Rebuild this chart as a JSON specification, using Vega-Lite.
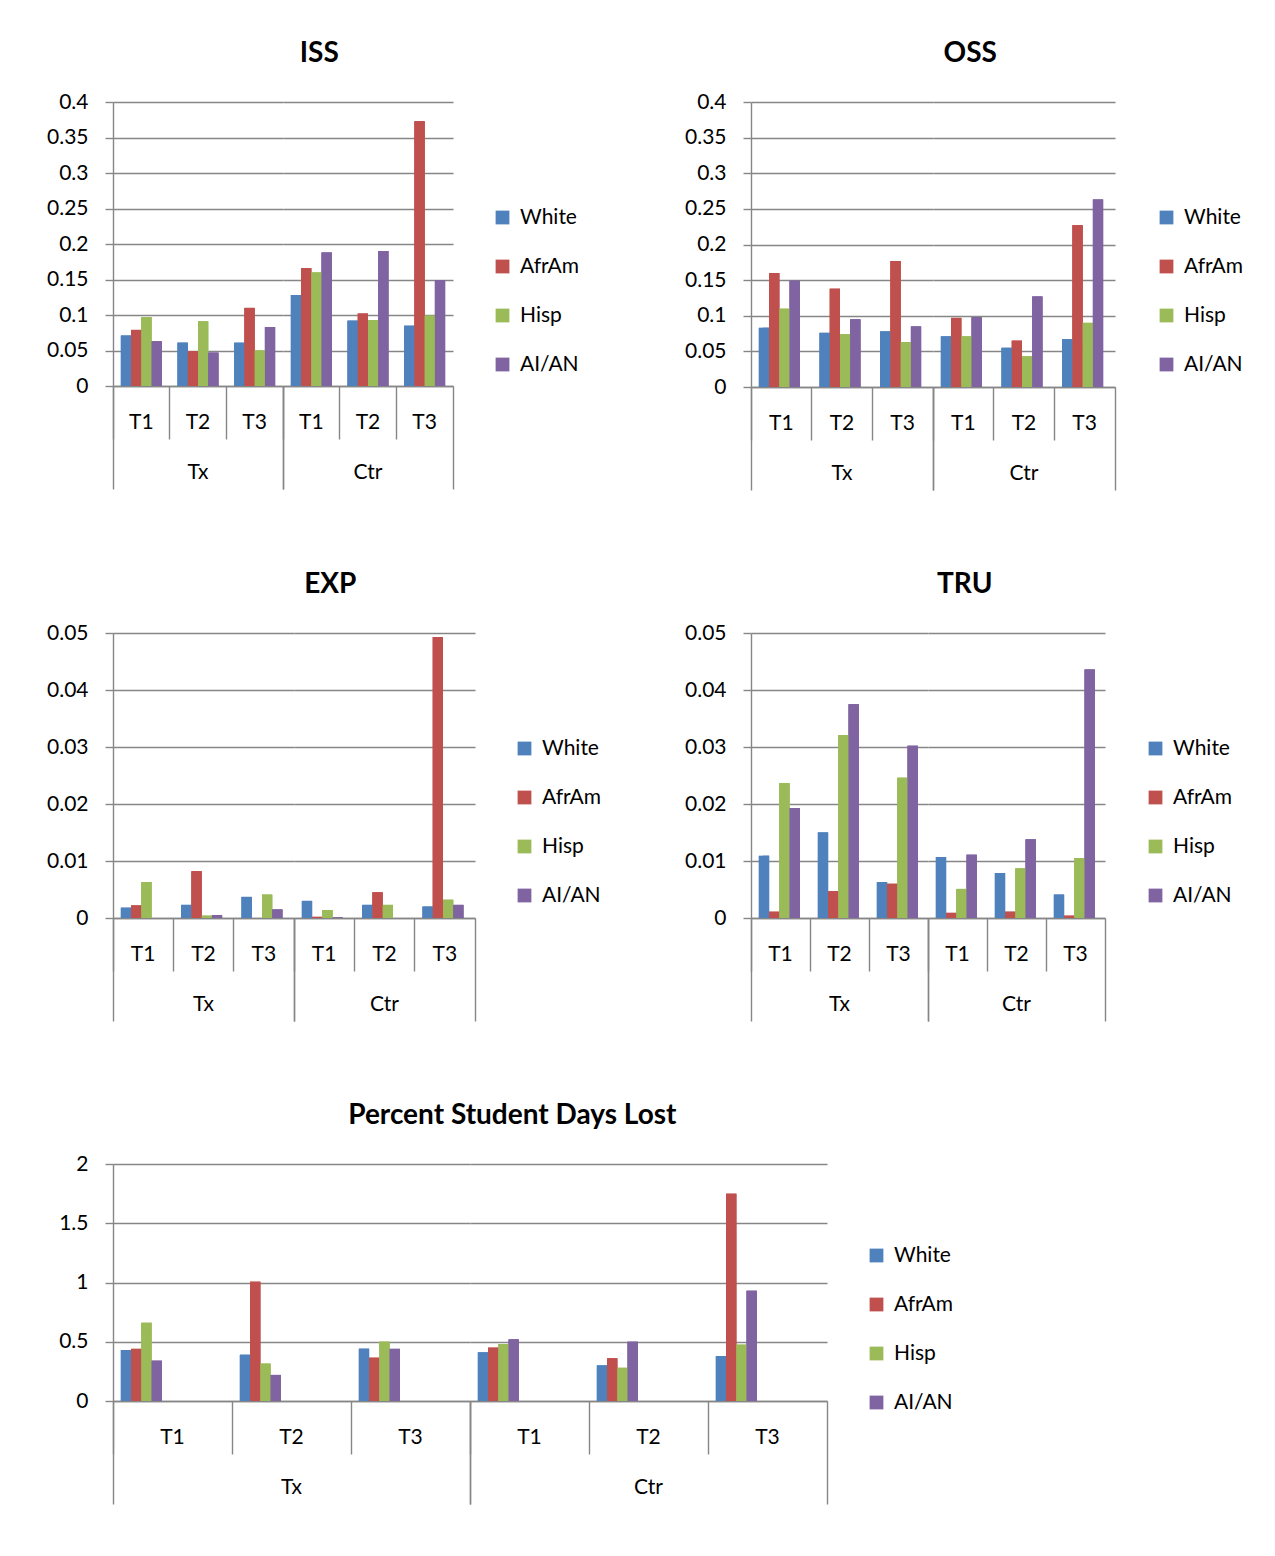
{
  "$schema": "https://vega.github.io/schema/vega-lite/v6.json",
  "background": "white",
  "padding": {"left": 46, "top": 40, "right": 0, "bottom": 0},
  "datasets": {
    "iss": [
      {"cond":"Tx","t":"T1","race":"White","v":0.071},{"cond":"Tx","t":"T1","race":"AfrAm","v":0.079},{"cond":"Tx","t":"T1","race":"Hisp","v":0.097},{"cond":"Tx","t":"T1","race":"AI/AN","v":0.063},
      {"cond":"Tx","t":"T2","race":"White","v":0.061},{"cond":"Tx","t":"T2","race":"AfrAm","v":0.049},{"cond":"Tx","t":"T2","race":"Hisp","v":0.091},{"cond":"Tx","t":"T2","race":"AI/AN","v":0.047},
      {"cond":"Tx","t":"T3","race":"White","v":0.061},{"cond":"Tx","t":"T3","race":"AfrAm","v":0.110},{"cond":"Tx","t":"T3","race":"Hisp","v":0.050},{"cond":"Tx","t":"T3","race":"AI/AN","v":0.083},
      {"cond":"Ctr","t":"T1","race":"White","v":0.128},{"cond":"Ctr","t":"T1","race":"AfrAm","v":0.166},{"cond":"Ctr","t":"T1","race":"Hisp","v":0.160},{"cond":"Ctr","t":"T1","race":"AI/AN","v":0.188},
      {"cond":"Ctr","t":"T2","race":"White","v":0.092},{"cond":"Ctr","t":"T2","race":"AfrAm","v":0.102},{"cond":"Ctr","t":"T2","race":"Hisp","v":0.093},{"cond":"Ctr","t":"T2","race":"AI/AN","v":0.190},
      {"cond":"Ctr","t":"T3","race":"White","v":0.085},{"cond":"Ctr","t":"T3","race":"AfrAm","v":0.373},{"cond":"Ctr","t":"T3","race":"Hisp","v":0.099},{"cond":"Ctr","t":"T3","race":"AI/AN","v":0.149}
    ],
    "oss": [
      {"cond":"Tx","t":"T1","race":"White","v":0.083},{"cond":"Tx","t":"T1","race":"AfrAm","v":0.160},{"cond":"Tx","t":"T1","race":"Hisp","v":0.110},{"cond":"Tx","t":"T1","race":"AI/AN","v":0.149},
      {"cond":"Tx","t":"T2","race":"White","v":0.076},{"cond":"Tx","t":"T2","race":"AfrAm","v":0.138},{"cond":"Tx","t":"T2","race":"Hisp","v":0.074},{"cond":"Tx","t":"T2","race":"AI/AN","v":0.095},
      {"cond":"Tx","t":"T3","race":"White","v":0.078},{"cond":"Tx","t":"T3","race":"AfrAm","v":0.177},{"cond":"Tx","t":"T3","race":"Hisp","v":0.063},{"cond":"Tx","t":"T3","race":"AI/AN","v":0.085},
      {"cond":"Ctr","t":"T1","race":"White","v":0.071},{"cond":"Ctr","t":"T1","race":"AfrAm","v":0.097},{"cond":"Ctr","t":"T1","race":"Hisp","v":0.071},{"cond":"Ctr","t":"T1","race":"AI/AN","v":0.098},
      {"cond":"Ctr","t":"T2","race":"White","v":0.055},{"cond":"Ctr","t":"T2","race":"AfrAm","v":0.065},{"cond":"Ctr","t":"T2","race":"Hisp","v":0.043},{"cond":"Ctr","t":"T2","race":"AI/AN","v":0.127},
      {"cond":"Ctr","t":"T3","race":"White","v":0.067},{"cond":"Ctr","t":"T3","race":"AfrAm","v":0.227},{"cond":"Ctr","t":"T3","race":"Hisp","v":0.090},{"cond":"Ctr","t":"T3","race":"AI/AN","v":0.263}
    ],
    "exp": [
      {"cond":"Tx","t":"T1","race":"White","v":0.0018},{"cond":"Tx","t":"T1","race":"AfrAm","v":0.0022},{"cond":"Tx","t":"T1","race":"Hisp","v":0.0063},{"cond":"Tx","t":"T1","race":"AI/AN","v":0},
      {"cond":"Tx","t":"T2","race":"White","v":0.0023},{"cond":"Tx","t":"T2","race":"AfrAm","v":0.0082},{"cond":"Tx","t":"T2","race":"Hisp","v":0.0004},{"cond":"Tx","t":"T2","race":"AI/AN","v":0.0005},
      {"cond":"Tx","t":"T3","race":"White","v":0.0037},{"cond":"Tx","t":"T3","race":"AfrAm","v":0},{"cond":"Tx","t":"T3","race":"Hisp","v":0.0041},{"cond":"Tx","t":"T3","race":"AI/AN","v":0.0015},
      {"cond":"Ctr","t":"T1","race":"White","v":0.003},{"cond":"Ctr","t":"T1","race":"AfrAm","v":0.0002},{"cond":"Ctr","t":"T1","race":"Hisp","v":0.0014},{"cond":"Ctr","t":"T1","race":"AI/AN","v":0.0001},
      {"cond":"Ctr","t":"T2","race":"White","v":0.0023},{"cond":"Ctr","t":"T2","race":"AfrAm","v":0.0045},{"cond":"Ctr","t":"T2","race":"Hisp","v":0.0023},{"cond":"Ctr","t":"T2","race":"AI/AN","v":0},
      {"cond":"Ctr","t":"T3","race":"White","v":0.002},{"cond":"Ctr","t":"T3","race":"AfrAm","v":0.0493},{"cond":"Ctr","t":"T3","race":"Hisp","v":0.0032},{"cond":"Ctr","t":"T3","race":"AI/AN","v":0.0023}
    ],
    "tru": [
      {"cond":"Tx","t":"T1","race":"White","v":0.0109},{"cond":"Tx","t":"T1","race":"AfrAm","v":0.0011},{"cond":"Tx","t":"T1","race":"Hisp","v":0.0237},{"cond":"Tx","t":"T1","race":"AI/AN","v":0.0193},
      {"cond":"Tx","t":"T2","race":"White","v":0.0150},{"cond":"Tx","t":"T2","race":"AfrAm","v":0.0047},{"cond":"Tx","t":"T2","race":"Hisp","v":0.0321},{"cond":"Tx","t":"T2","race":"AI/AN","v":0.0375},
      {"cond":"Tx","t":"T3","race":"White","v":0.0063},{"cond":"Tx","t":"T3","race":"AfrAm","v":0.0060},{"cond":"Tx","t":"T3","race":"Hisp","v":0.0246},{"cond":"Tx","t":"T3","race":"AI/AN","v":0.0302},
      {"cond":"Ctr","t":"T1","race":"White","v":0.0107},{"cond":"Ctr","t":"T1","race":"AfrAm","v":0.0009},{"cond":"Ctr","t":"T1","race":"Hisp","v":0.0051},{"cond":"Ctr","t":"T1","race":"AI/AN","v":0.0111},
      {"cond":"Ctr","t":"T2","race":"White","v":0.0079},{"cond":"Ctr","t":"T2","race":"AfrAm","v":0.0011},{"cond":"Ctr","t":"T2","race":"Hisp","v":0.0087},{"cond":"Ctr","t":"T2","race":"AI/AN","v":0.0138},
      {"cond":"Ctr","t":"T3","race":"White","v":0.0041},{"cond":"Ctr","t":"T3","race":"AfrAm","v":0.0004},{"cond":"Ctr","t":"T3","race":"Hisp","v":0.0105},{"cond":"Ctr","t":"T3","race":"AI/AN","v":0.0436}
    ],
    "psdl": [
      {"cond":"Tx","t":"T1","race":"White","v":0.43},{"cond":"Tx","t":"T1","race":"AfrAm","v":0.44},{"cond":"Tx","t":"T1","race":"Hisp","v":0.66},{"cond":"Tx","t":"T1","race":"AI/AN","v":0.34},
      {"cond":"Tx","t":"T2","race":"White","v":0.39},{"cond":"Tx","t":"T2","race":"AfrAm","v":1.006},{"cond":"Tx","t":"T2","race":"Hisp","v":0.315},{"cond":"Tx","t":"T2","race":"AI/AN","v":0.22},
      {"cond":"Tx","t":"T3","race":"White","v":0.44},{"cond":"Tx","t":"T3","race":"AfrAm","v":0.365},{"cond":"Tx","t":"T3","race":"Hisp","v":0.50},{"cond":"Tx","t":"T3","race":"AI/AN","v":0.44},
      {"cond":"Ctr","t":"T1","race":"White","v":0.41},{"cond":"Ctr","t":"T1","race":"AfrAm","v":0.45},{"cond":"Ctr","t":"T1","race":"Hisp","v":0.48},{"cond":"Ctr","t":"T1","race":"AI/AN","v":0.52},
      {"cond":"Ctr","t":"T2","race":"White","v":0.30},{"cond":"Ctr","t":"T2","race":"AfrAm","v":0.36},{"cond":"Ctr","t":"T2","race":"Hisp","v":0.28},{"cond":"Ctr","t":"T2","race":"AI/AN","v":0.50},
      {"cond":"Ctr","t":"T3","race":"White","v":0.38},{"cond":"Ctr","t":"T3","race":"AfrAm","v":1.75},{"cond":"Ctr","t":"T3","race":"Hisp","v":0.475},{"cond":"Ctr","t":"T3","race":"AI/AN","v":0.93}
    ]
  },
  "config": {
    "font": "Lato",
    "view": {"stroke": null},
    "axis": {"gridColor": "#868686", "domainColor": "#868686", "tickColor": "#868686", "labelColor": "#000000", "labelFontSize": 21, "gridWidth": 1.4, "domainWidth": 1.4, "tickWidth": 1.4},
    "legend": {"symbolType": "square", "symbolSize": 190, "symbolStrokeWidth": 0, "labelFontSize": 21, "labelColor": "#000000", "rowPadding": 27, "labelOffset": 7},
    "header": {"labelFontSize": 21, "labelColor": "#000000", "labelOrient": "bottom", "labelPadding": -28},
    "title": {"fontSize": 28, "fontWeight": "bold", "color": "#000000", "anchor": "middle", "frame": "bounds", "offset": 23, "dx": 6}
  },
  "columns": 1,
  "align": "none",
  "concat": [
    {
      "hconcat": [
        {
          "data": {"name": "iss"},
          "title": "ISS",
          "facet": {"column": {"field": "cond", "type": "nominal", "sort": ["Tx", "Ctr"], "title": null}},
          "spacing": 0,
          "spec": {
            "width": 170, "height": 284,
            "encoding": {
              "xOffset": {"field": "race", "sort": ["White", "AfrAm", "Hisp", "AI/AN"], "scale": {"paddingOuter": 0.77, "paddingInner": 0}},
              "y": {"field": "v", "type": "quantitative", "scale": {"domain": [0, 0.4], "nice": false}, "axis": {"title": null, "values": [0, 0.05, 0.1, 0.15, 0.2, 0.25, 0.3, 0.35, 0.4], "format": "~g", "tickSize": 8, "labelPadding": 17, "domain": true}},
              "color": {"field": "race", "type": "nominal", "sort": ["White", "AfrAm", "Hisp", "AI/AN"], "scale": {"domain": ["White", "AfrAm", "Hisp", "AI/AN"], "range": ["#4F81BD", "#C0504D", "#9BBB59", "#8064A2"]}, "legend": {"title": null, "orient": "none", "legendX": 379, "legendY": 105}}
            },
            "layer": [
              {"mark": "bar", "encoding": {"x": {"field": "t", "type": "nominal", "sort": ["T1", "T2", "T3"], "scale": {"paddingInner": 0, "paddingOuter": 0}, "axis": {"title": null, "orient": "bottom", "labelAngle": 0, "bandPosition": 0, "tickSize": 53, "labelPadding": -28}}}},
              {"mark": "bar", "encoding": {"x": {"field": "t", "type": "nominal", "sort": ["T1", "T2", "T3"], "axis": {"title": null, "orient": "bottom", "values": ["T1"], "bandPosition": 0, "tickSize": 103, "labels": false, "domain": false}}}},
              {"mark": "bar", "encoding": {"x": {"field": "t", "type": "nominal", "sort": ["T1", "T2", "T3"], "axis": {"title": null, "orient": "bottom", "values": ["T3"], "bandPosition": 1, "tickSize": 103, "labels": false, "domain": false}}}}
            ],
            "resolve": {"axis": {"x": "independent"}}
          }
        },
        {
          "data": {"name": "oss"},
          "title": "OSS",
          "facet": {"column": {"field": "cond", "type": "nominal", "sort": ["Tx", "Ctr"], "title": null}},
          "spacing": 0,
          "spec": {
            "width": 182, "height": 285,
            "encoding": {
              "xOffset": {"field": "race", "sort": ["White", "AfrAm", "Hisp", "AI/AN"], "scale": {"paddingOuter": 0.77, "paddingInner": 0}},
              "y": {"field": "v", "type": "quantitative", "scale": {"domain": [0, 0.4], "nice": false}, "axis": {"title": null, "values": [0, 0.05, 0.1, 0.15, 0.2, 0.25, 0.3, 0.35, 0.4], "format": "~g", "tickSize": 8, "labelPadding": 17, "domain": true}},
              "color": {"field": "race", "type": "nominal", "sort": ["White", "AfrAm", "Hisp", "AI/AN"], "scale": {"domain": ["White", "AfrAm", "Hisp", "AI/AN"], "range": ["#4F81BD", "#C0504D", "#9BBB59", "#8064A2"]}, "legend": {"title": null, "orient": "none", "legendX": 405, "legendY": 105}}
            },
            "layer": [
              {"mark": "bar", "encoding": {"x": {"field": "t", "type": "nominal", "sort": ["T1", "T2", "T3"], "scale": {"paddingInner": 0, "paddingOuter": 0}, "axis": {"title": null, "orient": "bottom", "labelAngle": 0, "bandPosition": 0, "tickSize": 53, "labelPadding": -28}}}},
              {"mark": "bar", "encoding": {"x": {"field": "t", "type": "nominal", "sort": ["T1", "T2", "T3"], "axis": {"title": null, "orient": "bottom", "values": ["T1"], "bandPosition": 0, "tickSize": 103, "labels": false, "domain": false}}}},
              {"mark": "bar", "encoding": {"x": {"field": "t", "type": "nominal", "sort": ["T1", "T2", "T3"], "axis": {"title": null, "orient": "bottom", "values": ["T3"], "bandPosition": 1, "tickSize": 103, "labels": false, "domain": false}}}}
            ],
            "resolve": {"axis": {"x": "independent"}}
          }
        }
      ],
      "spacing": 104,
      "resolve": {"scale": {"color": "independent"}, "legend": {"color": "independent"}}
    },
    {
      "hconcat": [
        {
          "data": {"name": "exp"},
          "title": "EXP",
          "facet": {"column": {"field": "cond", "type": "nominal", "sort": ["Tx", "Ctr"], "title": null}},
          "spacing": 0,
          "spec": {
            "width": 181, "height": 285,
            "encoding": {
              "xOffset": {"field": "race", "sort": ["White", "AfrAm", "Hisp", "AI/AN"], "scale": {"paddingOuter": 0.77, "paddingInner": 0}},
              "y": {"field": "v", "type": "quantitative", "scale": {"domain": [0, 0.05], "nice": false}, "axis": {"title": null, "values": [0, 0.01, 0.02, 0.03, 0.04, 0.05], "format": "~g", "tickSize": 8, "labelPadding": 17, "domain": true}},
              "color": {"field": "race", "type": "nominal", "sort": ["White", "AfrAm", "Hisp", "AI/AN"], "scale": {"domain": ["White", "AfrAm", "Hisp", "AI/AN"], "range": ["#4F81BD", "#C0504D", "#9BBB59", "#8064A2"]}, "legend": {"title": null, "orient": "none", "legendX": 401, "legendY": 105}}
            },
            "layer": [
              {"mark": "bar", "encoding": {"x": {"field": "t", "type": "nominal", "sort": ["T1", "T2", "T3"], "scale": {"paddingInner": 0, "paddingOuter": 0}, "axis": {"title": null, "orient": "bottom", "labelAngle": 0, "bandPosition": 0, "tickSize": 53, "labelPadding": -28}}}},
              {"mark": "bar", "encoding": {"x": {"field": "t", "type": "nominal", "sort": ["T1", "T2", "T3"], "axis": {"title": null, "orient": "bottom", "values": ["T1"], "bandPosition": 0, "tickSize": 103, "labels": false, "domain": false}}}},
              {"mark": "bar", "encoding": {"x": {"field": "t", "type": "nominal", "sort": ["T1", "T2", "T3"], "axis": {"title": null, "orient": "bottom", "values": ["T3"], "bandPosition": 1, "tickSize": 103, "labels": false, "domain": false}}}}
            ],
            "resolve": {"axis": {"x": "independent"}}
          }
        },
        {
          "data": {"name": "tru"},
          "title": "TRU",
          "facet": {"column": {"field": "cond", "type": "nominal", "sort": ["Tx", "Ctr"], "title": null}},
          "spacing": 0,
          "spec": {
            "width": 177, "height": 285,
            "encoding": {
              "xOffset": {"field": "race", "sort": ["White", "AfrAm", "Hisp", "AI/AN"], "scale": {"paddingOuter": 0.77, "paddingInner": 0}},
              "y": {"field": "v", "type": "quantitative", "scale": {"domain": [0, 0.05], "nice": false}, "axis": {"title": null, "values": [0, 0.01, 0.02, 0.03, 0.04, 0.05], "format": "~g", "tickSize": 8, "labelPadding": 17, "domain": true}},
              "color": {"field": "race", "type": "nominal", "sort": ["White", "AfrAm", "Hisp", "AI/AN"], "scale": {"domain": ["White", "AfrAm", "Hisp", "AI/AN"], "range": ["#4F81BD", "#C0504D", "#9BBB59", "#8064A2"]}, "legend": {"title": null, "orient": "none", "legendX": 394, "legendY": 105}}
            },
            "layer": [
              {"mark": "bar", "encoding": {"x": {"field": "t", "type": "nominal", "sort": ["T1", "T2", "T3"], "scale": {"paddingInner": 0, "paddingOuter": 0}, "axis": {"title": null, "orient": "bottom", "labelAngle": 0, "bandPosition": 0, "tickSize": 53, "labelPadding": -28}}}},
              {"mark": "bar", "encoding": {"x": {"field": "t", "type": "nominal", "sort": ["T1", "T2", "T3"], "axis": {"title": null, "orient": "bottom", "values": ["T1"], "bandPosition": 0, "tickSize": 103, "labels": false, "domain": false}}}},
              {"mark": "bar", "encoding": {"x": {"field": "t", "type": "nominal", "sort": ["T1", "T2", "T3"], "axis": {"title": null, "orient": "bottom", "values": ["T3"], "bandPosition": 1, "tickSize": 103, "labels": false, "domain": false}}}}
            ],
            "resolve": {"axis": {"x": "independent"}}
          }
        }
      ],
      "spacing": 82,
      "resolve": {"scale": {"color": "independent"}, "legend": {"color": "independent"}}
    },
    {
      "data": {"name": "psdl"},
      "title": "Percent Student Days Lost",
      "facet": {"column": {"field": "cond", "type": "nominal", "sort": ["Tx", "Ctr"], "title": null}},
      "spacing": 0,
      "spec": {
        "width": 357, "height": 237,
        "encoding": {
          "xOffset": {"field": "race", "sort": ["White", "AfrAm", "Hisp", "AI/AN"], "scale": {"paddingOuter": 0.74, "paddingInner": 0}},
          "y": {"field": "v", "type": "quantitative", "scale": {"domain": [0, 2], "nice": false}, "axis": {"title": null, "values": [0, 0.5, 1, 1.5, 2], "format": "~g", "tickSize": 8, "labelPadding": 17, "domain": true}},
          "color": {"field": "race", "type": "nominal", "sort": ["White", "AfrAm", "Hisp", "AI/AN"], "scale": {"domain": ["White", "AfrAm", "Hisp", "AI/AN"], "range": ["#4F81BD", "#C0504D", "#9BBB59", "#8064A2"]}, "legend": {"title": null, "orient": "none", "legendX": 753, "legendY": 81}}
        },
        "layer": [
          {"mark": "bar", "encoding": {"x": {"field": "t", "type": "nominal", "sort": ["T1", "T2", "T3"], "scale": {"paddingInner": 0, "paddingOuter": 0}, "axis": {"title": null, "orient": "bottom", "labelAngle": 0, "bandPosition": 0, "tickSize": 53, "labelPadding": -28}}}},
          {"mark": "bar", "encoding": {"x": {"field": "t", "type": "nominal", "sort": ["T1", "T2", "T3"], "axis": {"title": null, "orient": "bottom", "values": ["T1"], "bandPosition": 0, "tickSize": 103, "labels": false, "domain": false}}}},
          {"mark": "bar", "encoding": {"x": {"field": "t", "type": "nominal", "sort": ["T1", "T2", "T3"], "axis": {"title": null, "orient": "bottom", "values": ["T3"], "bandPosition": 1, "tickSize": 103, "labels": false, "domain": false}}}}
        ],
        "resolve": {"axis": {"x": "independent"}}
      }
    }
  ],
  "spacing": 80,
  "resolve": {"scale": {"color": "independent"}, "legend": {"color": "independent"}}
}
